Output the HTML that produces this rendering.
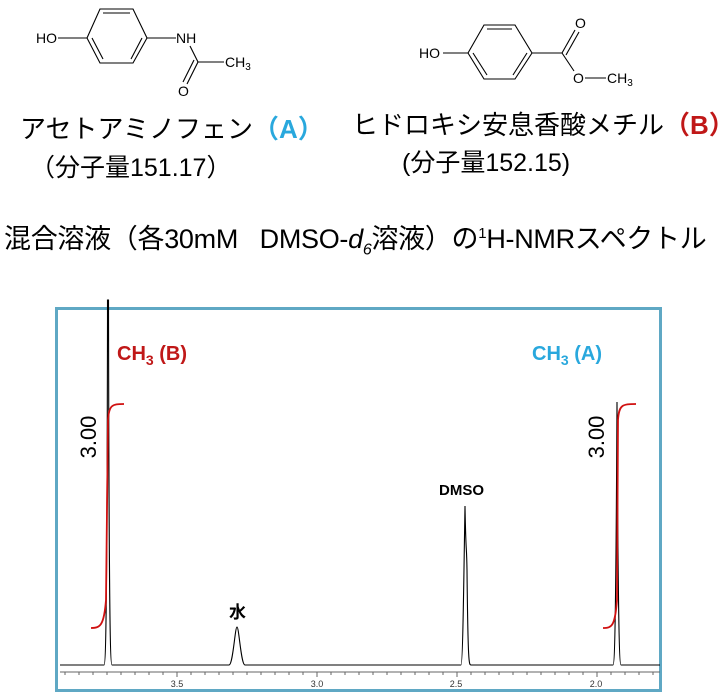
<!DOCTYPE html>
<html><head><meta charset="utf-8"><style>
body{margin:0;width:725px;height:692px;background:#fff;overflow:hidden;position:relative;font-family:"Liberation Sans","Noto Sans CJK JP",sans-serif}
.t{position:absolute;white-space:nowrap;color:#000;line-height:1}
</style></head><body>
<svg width="725" height="692" style="position:absolute;left:0;top:0" font-family="Liberation Sans, sans-serif">
<g stroke="#000" stroke-width="1.1" fill="none">
<polygon points="87,38 100,9 133,9 147,38 133,63 100,63"/>
<line x1="103" y1="13" x2="130" y2="13"/><line x1="92" y1="38" x2="103" y2="59"/><line x1="142" y1="38" x2="131" y2="59"/>
<line x1="58" y1="38" x2="87" y2="38"/><line x1="147" y1="38" x2="176" y2="38"/>
<line x1="190" y1="46" x2="198" y2="62"/><line x1="198" y1="62" x2="224" y2="62"/>
<line x1="198" y1="62" x2="187" y2="84"/><line x1="194" y1="60" x2="183" y2="82"/>
<polygon points="468,53 484,25 515,25 532,53 515,79 484,79"/>
<line x1="487" y1="29" x2="512" y2="29"/><line x1="473" y1="53" x2="487" y2="75"/><line x1="527" y1="53" x2="513" y2="75"/>
<line x1="443" y1="53" x2="468" y2="53"/><line x1="532" y1="53" x2="562" y2="53"/>
<line x1="562" y1="53" x2="575" y2="30"/><line x1="566" y1="55" x2="579" y2="32"/>
<line x1="562" y1="53" x2="574" y2="71"/><line x1="585" y1="78" x2="606" y2="78"/>
</g>
<g font-size="14" fill="#000">
<text x="36" y="43">HO</text><text x="176" y="43">NH</text><text x="225" y="67">CH<tspan font-size="10" dy="3">3</tspan></text><text x="178" y="96">O</text>
<text x="419" y="58">HO</text><text x="575" y="28">O</text><text x="573" y="83">O</text><text x="607" y="83">CH<tspan font-size="10" dy="3">3</tspan></text>
</g>
<rect x="56.5" y="308.5" width="604" height="382" fill="none" stroke="#5fa8c4" stroke-width="3"/>
<path d="M60,665 L104,665 C106,665 107,600 107.5,320 L107.5,300 L108.5,300 C109,600 110,665 112,665 L229,665 C233,665 235,627 237,627 C239,627 241,665 245,665 L461,665 C463,665 464,560 465,506 C466,560 466.5,540 467,570 C468,665 469,665 471,665 L613,665 C615,665 616,600 617,402 C618,600 619,665 621,665 L660,665" fill="none" stroke="#000" stroke-width="1.1"/>
<line x1="60" y1="672" x2="660" y2="672" stroke="#666" stroke-width="1"/>
<g stroke="#666" stroke-width="1">
<path d="M65,672v3M79,672v3M93,672v3M107,672v3M121,672v3M135,672v3M149,672v3M163,672v3M177,672v5M191,672v3M205,672v3M219,672v3M233,672v3M247,672v3M261,672v3M275,672v3M289,672v3M303,672v3M317,672v5M331,672v3M345,672v3M359,672v3M373,672v3M387,672v3M401,672v3M415,672v3M429,672v3M443,672v3M457,672v5M471,672v3M485,672v3M499,672v3M513,672v3M527,672v3M541,672v3M555,672v3M569,672v3M583,672v3M597,672v5M611,672v3M625,672v3M639,672v3M653,672v3"/>
</g>
<g font-size="9" fill="#333" text-anchor="middle"><text x="177" y="687">3.5</text><text x="317" y="687">3.0</text><text x="456" y="687">2.5</text><text x="596" y="687">2.0</text></g>
<g fill="none" stroke="#d01010" stroke-width="1.8">
<path d="M91,628 C100,628 104,626 106,600 L108,420 C109,405 112,404 124,404"/>
<path d="M603,628 C612,628 615,626 617,600 L618,420 C619,405 622,404 636,404"/>
</g>
<g font-size="22" fill="#000" text-anchor="middle">
<text transform="translate(96,437) rotate(-90)">3.00</text>
<text transform="translate(604,437) rotate(-90)">3.00</text>
</g>
<g font-size="20" font-weight="bold">
<text x="117" y="360" fill="#c01818">CH<tspan font-size="14" dy="5">3</tspan><tspan dy="-5"> (B)</tspan></text>
<text x="532" y="360" fill="#29a8dd">CH<tspan font-size="14" dy="5">3</tspan><tspan dy="-5"> (A)</tspan></text>
<text x="439" y="495" font-size="15" fill="#000">DMSO</text>
</g>
<text x="229" y="618" font-size="17" font-weight="bold" font-family="Noto Sans CJK JP, sans-serif">水</text>
</svg>
<div class="t" style="left:20px;top:116px;font-size:26px">アセトアミノフェン<span style="color:#29a8dd;font-weight:bold">（A）</span></div>
<div class="t" style="left:30px;top:156px;font-size:25px">（分子量151.17）</div>
<div class="t" style="left:352px;top:112px;font-size:26px">ヒドロキシ安息香酸メチル<span style="color:#c01818;font-weight:bold">（B）</span></div>
<div class="t" style="left:402px;top:151px;font-size:25px">(分子量152.15)</div>
<div class="t" style="left:4px;top:226px;font-size:27px;letter-spacing:-0.3px">混合溶液（各30mM&nbsp;&nbsp;&nbsp;DMSO-<i>d<sub style="font-size:16px">6</sub></i>溶液）の<sup style="font-size:15px">1</sup>H-NMRスペクトル</div>
</body></html>
